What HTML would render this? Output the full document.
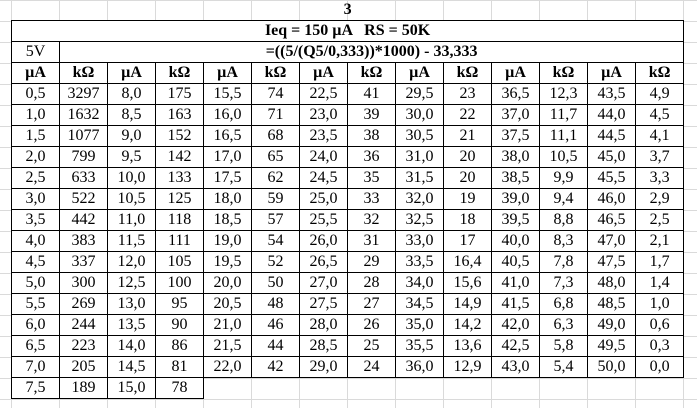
<!DOCTYPE html>
<html><head><meta charset="utf-8"><style>
body{margin:0;width:697px;height:408px;overflow:hidden;background:#fff;position:relative;
background-image:linear-gradient(to right,#dadada 1px,transparent 1px),linear-gradient(to bottom,#dadada 1px,transparent 1px);
background-size:48px 21px;background-position:11px 0px;}
table{position:absolute;left:11px;top:0;width:673px;border-collapse:collapse;table-layout:fixed;font-family:"Liberation Serif",serif;font-size:16px;color:#000}
td{height:20px;padding:0;text-align:center;border:1px solid #000;line-height:20px;white-space:nowrap;overflow:visible;background:#fff}
tr.h td{font-weight:bold}
td.t{border:none;border-bottom:1px solid #000;font-weight:bold;background:transparent}
td.n{border:none;background:transparent}
</style></head><body>
<table>
<colgroup><col span="14" style="width:48px"></colgroup>
<tr><td colspan="14" class="t">3</td></tr>
<tr class="h"><td colspan="14">Ieq = 150 µA &nbsp; RS = 50K</td></tr>
<tr><td>5V</td><td colspan="13" style="font-weight:bold">=((5/(Q5/0,333))*1000) - 33,333</td></tr>
<tr class="h"><td>µA</td><td>kΩ</td><td>µA</td><td>kΩ</td><td>µA</td><td>kΩ</td><td>µA</td><td>kΩ</td><td>µA</td><td>kΩ</td><td>µA</td><td>kΩ</td><td>µA</td><td>kΩ</td></tr>
<tr><td>0,5</td><td>3297</td><td>8,0</td><td>175</td><td>15,5</td><td>74</td><td>22,5</td><td>41</td><td>29,5</td><td>23</td><td>36,5</td><td>12,3</td><td>43,5</td><td>4,9</td></tr>
<tr><td>1,0</td><td>1632</td><td>8,5</td><td>163</td><td>16,0</td><td>71</td><td>23,0</td><td>39</td><td>30,0</td><td>22</td><td>37,0</td><td>11,7</td><td>44,0</td><td>4,5</td></tr>
<tr><td>1,5</td><td>1077</td><td>9,0</td><td>152</td><td>16,5</td><td>68</td><td>23,5</td><td>38</td><td>30,5</td><td>21</td><td>37,5</td><td>11,1</td><td>44,5</td><td>4,1</td></tr>
<tr><td>2,0</td><td>799</td><td>9,5</td><td>142</td><td>17,0</td><td>65</td><td>24,0</td><td>36</td><td>31,0</td><td>20</td><td>38,0</td><td>10,5</td><td>45,0</td><td>3,7</td></tr>
<tr><td>2,5</td><td>633</td><td>10,0</td><td>133</td><td>17,5</td><td>62</td><td>24,5</td><td>35</td><td>31,5</td><td>20</td><td>38,5</td><td>9,9</td><td>45,5</td><td>3,3</td></tr>
<tr><td>3,0</td><td>522</td><td>10,5</td><td>125</td><td>18,0</td><td>59</td><td>25,0</td><td>33</td><td>32,0</td><td>19</td><td>39,0</td><td>9,4</td><td>46,0</td><td>2,9</td></tr>
<tr><td>3,5</td><td>442</td><td>11,0</td><td>118</td><td>18,5</td><td>57</td><td>25,5</td><td>32</td><td>32,5</td><td>18</td><td>39,5</td><td>8,8</td><td>46,5</td><td>2,5</td></tr>
<tr><td>4,0</td><td>383</td><td>11,5</td><td>111</td><td>19,0</td><td>54</td><td>26,0</td><td>31</td><td>33,0</td><td>17</td><td>40,0</td><td>8,3</td><td>47,0</td><td>2,1</td></tr>
<tr><td>4,5</td><td>337</td><td>12,0</td><td>105</td><td>19,5</td><td>52</td><td>26,5</td><td>29</td><td>33,5</td><td>16,4</td><td>40,5</td><td>7,8</td><td>47,5</td><td>1,7</td></tr>
<tr><td>5,0</td><td>300</td><td>12,5</td><td>100</td><td>20,0</td><td>50</td><td>27,0</td><td>28</td><td>34,0</td><td>15,6</td><td>41,0</td><td>7,3</td><td>48,0</td><td>1,4</td></tr>
<tr><td>5,5</td><td>269</td><td>13,0</td><td>95</td><td>20,5</td><td>48</td><td>27,5</td><td>27</td><td>34,5</td><td>14,9</td><td>41,5</td><td>6,8</td><td>48,5</td><td>1,0</td></tr>
<tr><td>6,0</td><td>244</td><td>13,5</td><td>90</td><td>21,0</td><td>46</td><td>28,0</td><td>26</td><td>35,0</td><td>14,2</td><td>42,0</td><td>6,3</td><td>49,0</td><td>0,6</td></tr>
<tr><td>6,5</td><td>223</td><td>14,0</td><td>86</td><td>21,5</td><td>44</td><td>28,5</td><td>25</td><td>35,5</td><td>13,6</td><td>42,5</td><td>5,8</td><td>49,5</td><td>0,3</td></tr>
<tr><td>7,0</td><td>205</td><td>14,5</td><td>81</td><td>22,0</td><td>42</td><td>29,0</td><td>24</td><td>36,0</td><td>12,9</td><td>43,0</td><td>5,4</td><td>50,0</td><td>0,0</td></tr>
<tr><td>7,5</td><td>189</td><td>15,0</td><td>78</td><td colspan="10" class="n"></td></tr>
</table>
</body></html>
